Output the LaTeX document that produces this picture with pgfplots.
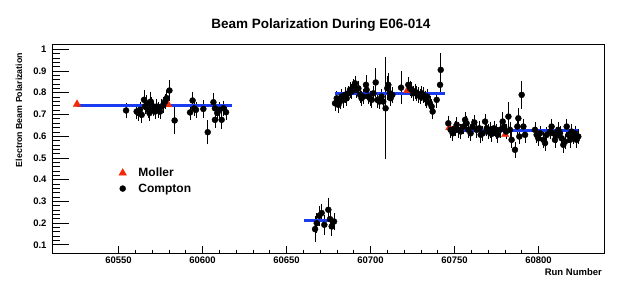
\documentclass[border=0pt]{standalone}
\usepackage{fontspec}
\setmainfont{Liberation Sans}
\usepackage{pgfplots}
\pgfplotsset{compat=1.18}
\usepackage{pgfplotstable}
\definecolor{fitblue}{RGB}{25,60,240}
\definecolor{mollerred}{RGB}{245,40,10}

\pgfplotstableread{
x y e
60554.5 0.718 0.03
60560.8 0.713 0.03
60561.8 0.706 0.03
60562.8 0.721 0.03
60563.8 0.698 0.03
60565.2 0.767 0.04
60565.8 0.736 0.03
60566.8 0.752 0.03
60567.8 0.721 0.03
60568.4 0.706 0.03
60569.2 0.759 0.04
60569.7 0.744 0.03
60570.7 0.728 0.03
60571.7 0.713 0.03
60572.7 0.736 0.03
60573.7 0.721 0.03
60574.7 0.713 0.03
60575.7 0.736 0.03
60576.7 0.744 0.03
60577.7 0.759 0.03
60578.7 0.775 0.03
60580.3 0.810 0.045
60583.4 0.672 0.055
60592.6 0.709 0.03
60594.1 0.764 0.035
60595.0 0.728 0.03
60596.1 0.721 0.03
60600.5 0.725 0.035
60603.1 0.618 0.05
60606.5 0.756 0.035
60607.4 0.728 0.03
60607.4 0.675 0.03
60608.8 0.706 0.03
60610.0 0.721 0.03
60611.4 0.675 0.035
60612.4 0.728 0.03
60614.0 0.710 0.03
60667.0 0.172 0.055
60668.0 0.199 0.04
60669.5 0.233 0.04
60670.9 0.246 0.035
60672.5 0.192 0.04
60674.9 0.261 0.05
60675.9 0.218 0.04
60676.9 0.184 0.04
60678.3 0.207 0.035
60678.9 0.751 0.03
60679.9 0.774 0.03
60680.9 0.744 0.03
60681.8 0.759 0.03
60682.8 0.782 0.03
60683.8 0.767 0.03
60684.8 0.790 0.03
60685.8 0.774 0.03
60686.8 0.797 0.03
60687.8 0.813 0.03
60688.8 0.805 0.03
60689.8 0.828 0.03
60690.8 0.843 0.03
60691.8 0.813 0.03
60692.8 0.820 0.03
60693.8 0.790 0.03
60694.7 0.774 0.03
60695.7 0.782 0.03
60697.3 0.836 0.04
60697.7 0.813 0.03
60698.7 0.782 0.03
60699.7 0.774 0.03
60700.7 0.767 0.03
60701.7 0.797 0.03
60703.1 0.847 0.06
60704.1 0.767 0.03
60705.3 0.759 0.03
60706.6 0.782 0.03
60707.6 0.759 0.03
60709.0 0.728 0.23
60710.0 0.820 0.05
60710.6 0.836 0.05
60711.6 0.797 0.03
60712.0 0.774 0.03
60713.0 0.790 0.03
60718.2 0.823 0.07
60722.5 0.836 0.03
60723.5 0.820 0.03
60724.5 0.813 0.03
60725.5 0.797 0.03
60726.5 0.805 0.03
60727.5 0.797 0.03
60728.5 0.790 0.03
60729.5 0.782 0.03
60730.5 0.797 0.03
60731.5 0.790 0.03
60732.4 0.774 0.03
60733.4 0.767 0.03
60733.8 0.782 0.03
60735.4 0.751 0.03
60736.4 0.736 0.03
60737.0 0.713 0.03
60739.4 0.767 0.03
60741.4 0.836 0.04
60741.8 0.905 0.07
60746.3 0.659 0.03
60747.7 0.629 0.03
60748.9 0.613 0.03
60750.3 0.636 0.03
60751.3 0.652 0.03
60752.3 0.629 0.03
60753.7 0.621 0.03
60755.3 0.644 0.03
60756.3 0.675 0.03
60757.2 0.659 0.03
60758.2 0.629 0.03
60759.6 0.613 0.03
60760.8 0.644 0.03
60761.8 0.663 0.03
60763.2 0.629 0.03
60764.8 0.636 0.03
60765.6 0.606 0.03
60766.8 0.613 0.03
60768.2 0.667 0.03
60769.2 0.636 0.03
60770.1 0.621 0.03
60771.1 0.629 0.03
60772.1 0.610 0.03
60773.5 0.636 0.03
60774.7 0.621 0.03
60775.7 0.606 0.03
60777.1 0.629 0.03
60778.7 0.667 0.04
60779.5 0.644 0.03
60780.7 0.621 0.03
60782.1 0.690 0.06
60783.0 0.629 0.03
60784.0 0.583 0.03
60786.0 0.537 0.03
60787.4 0.644 0.03
60788.0 0.682 0.04
60788.6 0.598 0.03
60790.0 0.790 0.06
60791.0 0.644 0.03
60792.0 0.606 0.03
60797.9 0.629 0.03
60798.9 0.606 0.03
60799.9 0.590 0.03
60800.9 0.613 0.03
60802.9 0.583 0.03
60803.9 0.568 0.03
60804.9 0.606 0.03
60806.9 0.621 0.03
60807.8 0.644 0.03
60808.8 0.613 0.03
60809.8 0.583 0.03
60810.8 0.606 0.03
60811.8 0.629 0.03
60812.8 0.613 0.03
60813.8 0.590 0.03
60814.8 0.560 0.03
60815.8 0.575 0.03
60816.8 0.644 0.03
60817.8 0.606 0.03
60818.8 0.583 0.03
60819.7 0.621 0.03
60820.7 0.598 0.03
60821.7 0.613 0.03
60822.7 0.583 0.03
60823.7 0.598 0.03
}\compton

\pgfplotstableread{
x y
60525.3 0.747
60579.6 0.745
60721.9 0.810
60747.0 0.640
60780.2 0.607
}\moller

\begin{document}
\begin{tikzpicture}
\begin{axis}[
  at={(52pt,37pt)}, anchor=south west,
  scale only axis, width=552pt, height=209pt,
  xmin=60510.4, xmax=60839, ymin=0.062, ymax=1.024,
  xtick={60550,60600,...,60800},
  ytick={0.1,0.2,0.3,0.4,0.5,0.6,0.7,0.8,0.9,1},
  minor x tick num=4, minor y tick num=4,
  tick align=inside, xtick pos=bottom, ytick pos=left,
  x tick style={black, line width=0.5pt, /pgfplots/major tick length=7pt, /pgfplots/minor tick length=3.5pt},
  y tick style={black, line width=0.5pt, /pgfplots/major tick length=17pt, /pgfplots/minor tick length=8pt},
  axis line style={line width=0.9pt},
  /pgf/number format/assume math mode=true,
  /pgf/number format/1000 sep={},
  scaled ticks=false,
  yticklabel style={/pgf/number format/fixed, /pgf/number format/precision=1, xshift=-2pt},
  ticklabel style={font=\fontsize{9.5}{11}\selectfont\bfseries},
  title={Beam Polarization During E06-014},
  title style={font=\fontsize{13.5}{15}\selectfont\bfseries, at={(axis description cs:0.487,1)}, anchor=south, inner sep=0pt, yshift=6.5pt},
  xlabel={Run Number},
  xlabel style={font=\fontsize{9.5}{11}\selectfont\bfseries, at={(axis description cs:1,0)}, anchor=north east, inner sep=0pt, yshift=-15pt, xshift=-2pt},
  ylabel={Electron Beam Polarization},
  ylabel style={font=\fontsize{8.8}{10}\selectfont\bfseries, at={(axis description cs:-0.0598,0.684)}, anchor=center},
  legend style={at={(axis description cs:0.121,0.418)}, anchor=north west, draw=none, fill=none,
    font=\fontsize{12}{13}\selectfont\bfseries, row sep=1.6pt, inner sep=0pt,
    /tikz/every odd column/.append style={column sep=10pt}},
  legend cell align=left,
]
\addplot[only marks, mark=triangle*, mark size=4.3pt, color=mollerred] table[x=x,y=y] {\moller};
\addlegendentry{Moller}
\addplot[only marks, mark=*, mark size=3pt, color=black,
  error bars/.cd, y dir=both, y explicit, error mark=-, error mark options={mark size=1.2pt, line width=0.6pt},
  error bar style={line width=0.7pt}]
  table[x=x,y=y,y error=e] {\compton};
\addlegendentry{Compton}
\addplot[fitblue, line width=2.8pt, forget plot] coordinates {(60525.3,0.741) (60617.4,0.741)};
\addplot[fitblue, line width=2.8pt, forget plot] coordinates {(60660.4,0.2116) (60677.9,0.2116)};
\addplot[fitblue, line width=2.8pt, forget plot] coordinates {(60678.9,0.796) (60744.5,0.796)};
\addplot[fitblue, line width=2.8pt, forget plot] coordinates {(60746.3,0.626) (60823.7,0.626)};
\end{axis}
\pgfresetboundingbox
\path[use as bounding box] (0,0) rectangle (630pt,290pt);
\end{tikzpicture}
\end{document}
